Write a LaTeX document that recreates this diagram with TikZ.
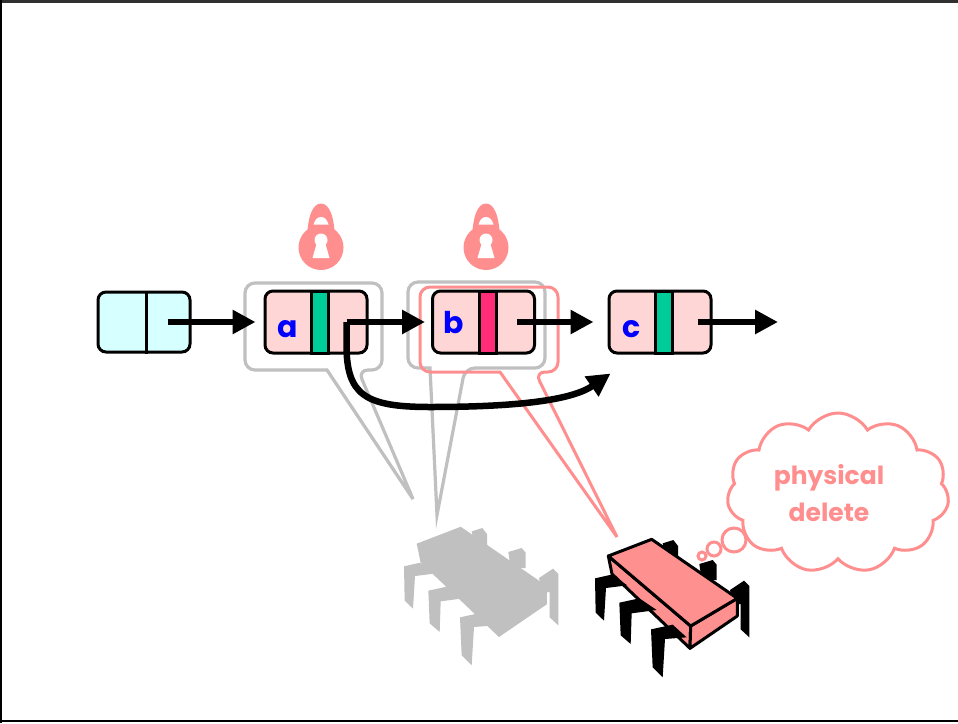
\documentclass[tikz,border=0pt]{standalone}
\usepackage{fontspec}
\usetikzlibrary{arrows.meta,shapes.symbols}
\newfontfamily\keyfont{Poppins}

\definecolor{lockred}{HTML}{FF8F8F}
\definecolor{callgray}{HTML}{C0C0C0}
\definecolor{nodepink}{HTML}{FFD6D6}
\definecolor{headcyan}{HTML}{D6FFFF}
\definecolor{markgreen}{HTML}{00CC99}
\definecolor{markred}{HTML}{FF2C78}
\definecolor{keyblue}{HTML}{0000FF}
\definecolor{chippink}{HTML}{FF9090}
\definecolor{framegray}{HTML}{303030}

\tikzset{
  listnode/.style={draw=black, line width=3pt, rounded corners=8pt,
    minimum width=102pt, minimum height=62pt, inner sep=0pt, fill=nodepink},
  headnode/.style={listnode, fill=headcyan, minimum width=92pt, minimum height=60pt},
  markbar/.style={draw=black, line width=3pt, minimum width=17pt,
    minimum height=62pt, inner sep=0pt},
  keylabel/.style={text=keyblue, anchor=base, inner sep=0pt,
    font=\keyfont\bfseries\fontsize{30}{30}\selectfont},
  ptr/.style={line width=6.5pt, -{Triangle[length=23pt,width=23pt]}},
  graycallout/.style={draw=callgray, line width=3.2pt, rounded corners=10pt},
  pinkcallout/.style={draw=lockred, line width=3pt, rounded corners=10pt},
  % padlock centred on its round body
  padlock/.pic={
    \fill[lockred] (-14,-4) .. controls (-14,-32) and (-8,-44) .. (0,-44)
      .. controls (8,-44) and (14,-32) .. (14,-4) -- cycle;
    \fill[lockred] (0,0) circle[radius=22.5];
    \fill[white] (-7.5,-23) .. controls (-6,-28) and (-3.5,-30.5) .. (0,-30.5)
      .. controls (3.5,-30.5) and (6,-28) .. (7.5,-23) -- cycle;
    \fill[white] (0,-7.5) circle[radius=6.5];
    \fill[white] (-4,-5) -- (4,-5) -- (8.5,10.5) -- (-8.5,10.5) -- cycle;
  },
  % processor drawn as a bug: box body with legs
  chip/.pic={
    \begin{scope}[scale=1/3, line join=round]
      \fill[chipleg] (218,40) -- (250,30) -- (264,48) -- (264,85) -- (225,75) -- cycle;
      \fill[chipleg] (328,102) -- (368,90) -- (380,104) -- (380,150) -- (335,150) -- cycle;
      \fill[chipleg] (420,180) -- (462,152) -- (478,168) -- (478,322) -- (452,298)
        -- (452,222) -- (430,225) -- cycle;
      \filldraw[chipbody] (55,78) -- (302,288) -- (300,355) -- (66,132) -- cycle;
      \filldraw[chipbody] (302,288) -- (442,205) -- (442,258) -- (300,355) -- cycle;
      \filldraw[chipbody] (55,78) -- (185,28) -- (442,205) -- (302,288) -- cycle;
      \fill[chipleg] (15,145) -- (64,134) -- (112,166) -- (48,174) -- (42,272) -- (17,248) -- cycle;
      \fill[chipleg] (88,218) -- (148,205) -- (200,240) -- (125,250) -- (122,342) -- (92,316) -- cycle;
      \fill[chipleg] (183,298) -- (248,284) -- (290,322) -- (225,327) -- (218,442) -- (188,412) -- cycle;
    \end{scope}
  }
}

\begin{document}
\begin{tikzpicture}[x=1pt, y=-1pt]
  \useasboundingbox (0,0) rectangle (958,723);
  \fill[white] (0,0) rectangle (958,723);

  % frame
  \draw[framegray, line width=3pt] (0,1.5) -- (958,1.5);
  \draw[black, line width=2pt] (1,0) -- (1,723);
  \draw[black, line width=2.5pt] (0,721) -- (958,721);

  % processor callouts
  \draw[graycallout] (313,283) -- (382,283) -- (382,370) -- (358,370)
    [sharp corners] -- (413,499) -- (327,370) [rounded corners=10pt]
    -- (245,370) -- (245,283) -- cycle;
  \draw[graycallout] (476,282) -- (545,282) -- (545,368) -- (465,368)
    [sharp corners] -- (437,515) -- (430,368) [rounded corners=10pt]
    -- (408,368) -- (408,282) -- cycle;
  \draw[pinkcallout] (489,287) -- (558,287) -- (558,372) -- (535,372)
    [sharp corners] -- (617,537) -- (500,372) [rounded corners=10pt]
    -- (420,372) -- (420,287) -- cycle;

  % locks
  \pic at (321,247.5) {padlock};
  \pic at (486,247.5) {padlock};

  % list
  \node[headnode] (head) at (144,322) {};
  \draw[line width=3pt] ([xshift=2pt]head.north) -- ([xshift=2pt]head.south);

  \node[listnode] (a) at (316,322) {};
  \node[markbar, fill=markgreen] (a-mark) at (319.5,322) {};
  \node[keylabel] (a-key) at (288,337) {a};

  \node[listnode] (b) at (483.5,322) {};
  \node[markbar, fill=markred] (b-mark) at (488,322) {};
  \node[keylabel] (b-key) at (454,333) {b};

  \node[listnode] (c) at (660,322) {};
  \node[markbar, fill=markgreen] (c-mark) at (664,322) {};
  \node[keylabel] (c-key) at (632,337) {c};

  \coordinate (head-next) at ([xshift=-24pt]head.east);
  \coordinate (a-next) at ([xshift=-22pt]a.east);
  \coordinate (b-next) at ([xshift=-19pt]b.east);
  \coordinate (c-next) at ([xshift=-15pt]c.east);
  \coordinate (tail) at (778,322);

  \draw[ptr] (head-next) -- ([xshift=-8pt]a.west);
  \draw[ptr] (a-next) -- ([xshift=-6pt]b.west);
  \draw[ptr] (b-next) -- ([xshift=-14pt]c.west);
  \draw[ptr] (c-next) -- (tail);

  % unlinking b: a points past it to c
  \draw[ptr] (a-next) -- ++(0,23) .. controls ++(0,50) and (365,407) .. (430,407)
    .. controls (530,407) and (575,398) .. ([shift={(3pt,-19pt)}]c.south west);

  % processors
  \begin{scope}[shift={(399,518)},
      chipbody/.style={fill=callgray, draw=callgray, line width=1pt},
      chipleg/.style={fill=callgray}]
    \pic {chip};
  \end{scope}
  \begin{scope}[shift={(590,530)},
      chipbody/.style={fill=chippink, draw=black, line width=3pt},
      chipleg/.style={fill=black}]
    \pic {chip};
  \end{scope}

  % thought bubble
  \draw[lockred, line width=3pt] (702,556) circle[radius=4];
  \draw[lockred, line width=3pt] (714,549) circle[radius=7];
  \draw[lockred, line width=3pt] (734,540) circle[radius=12];
  \node[cloud, cloud puffs=11, cloud puff arc=120, draw=lockred, line width=3pt,
    minimum width=222pt, minimum height=160pt] (thought) at (838,493) {};
  \node[text=lockred, align=center, inner sep=0pt,
    font=\keyfont\bfseries\fontsize{25}{37}\selectfont] (thought-text) at (829,493)
    {physical\\delete};
\end{tikzpicture}
\end{document}
